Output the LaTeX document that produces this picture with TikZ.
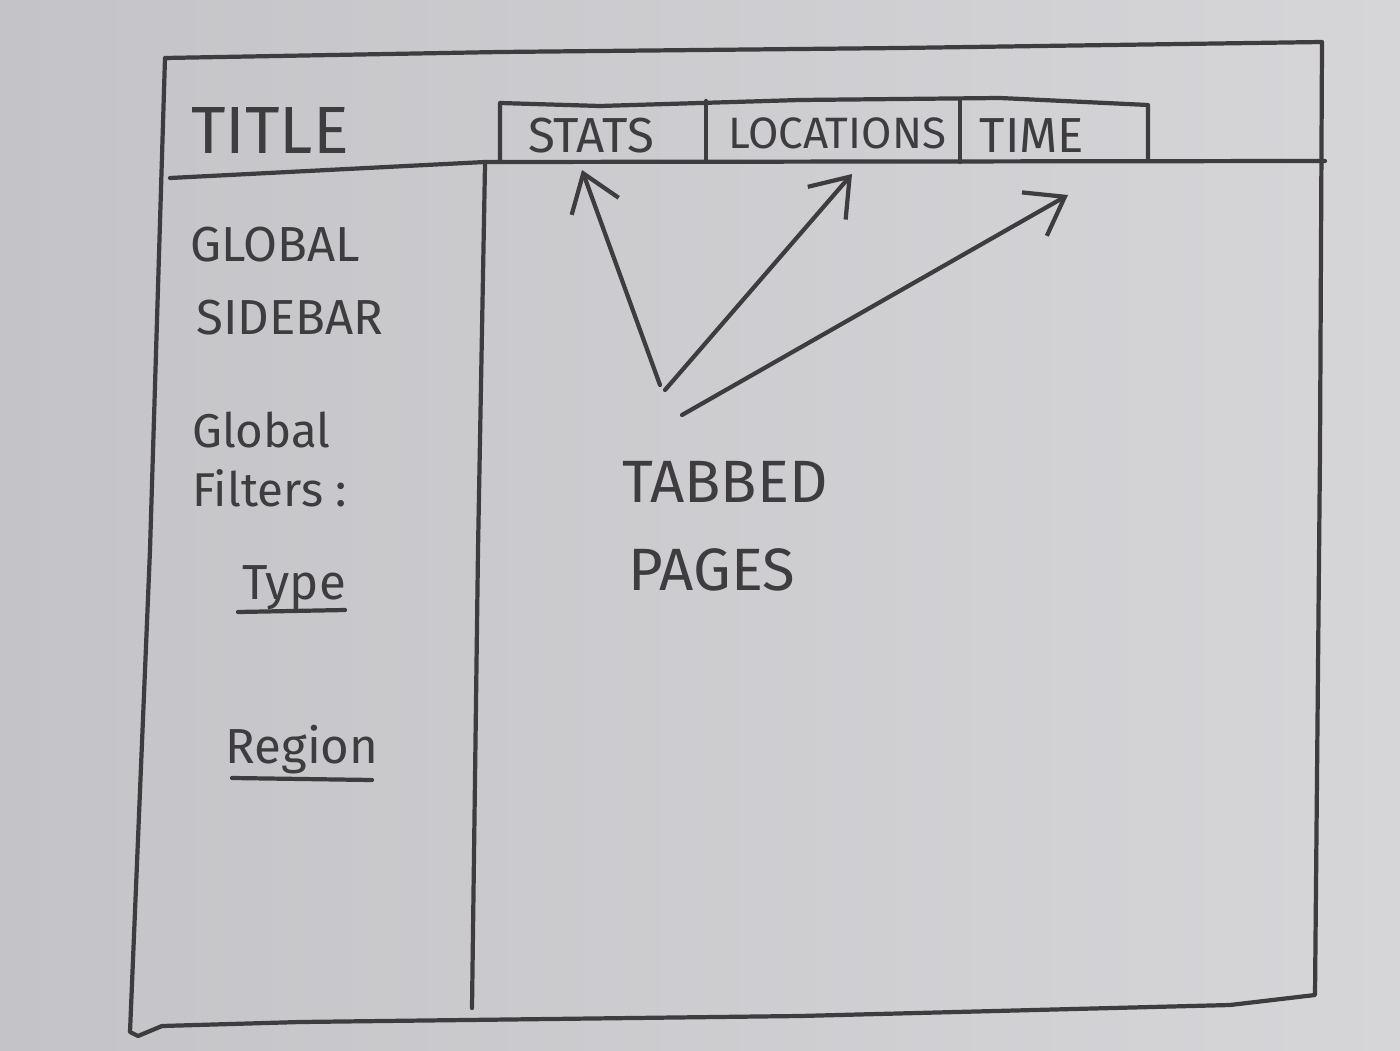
\documentclass[tikz,border=0pt]{standalone}
\usepackage{fontspec}
\setmainfont{Fira Sans}
\usetikzlibrary{arrows.meta}
\definecolor{pencil}{RGB}{62,60,62}
\definecolor{paperL}{RGB}{196,196,200}
\definecolor{paperR}{RGB}{214,213,216}
\tikzset{
  sketch/.style={draw=pencil, line width=1.2pt, line cap=round, line join=round},
  hand/.style={text=pencil, inner sep=1pt},
  big/.style={hand, font=\fontsize{19}{22}\selectfont},
  mid/.style={hand, font=\fontsize{17}{20}\selectfont},
  tab/.style={hand, font=\fontsize{14}{17}\selectfont},
  side/.style={hand, font=\fontsize{14}{17}\selectfont},
  small/.style={hand, font=\fontsize{13.5}{16}\selectfont},
  pointer/.style={sketch, -{Straight Barb[length=3.5mm,width=5mm,line width=1.2pt]}}
}
\begin{document}
\begin{tikzpicture}
% paper
\shade[left color=paperL, right color=paperR] (0,0) rectangle (14,10.5);
\useasboundingbox (0,0) rectangle (14,10.5);
% outer frame
\draw[sketch] (1.65,9.92) -- (5.0,9.98) -- (9.0,10.02) -- (13.22,10.08)
  -- (13.20,6.0) -- (13.15,0.55) -- (12.3,0.45) -- (8.0,0.34)
  -- (3.0,0.28) -- (1.62,0.24) -- (1.38,0.14) -- (1.30,0.18)
  -- (1.50,5.0) -- cycle;
% header line and sidebar divider
\draw[sketch] (1.70,8.72) -- (4.85,8.88) -- (13.25,8.89);
\draw[sketch] (4.85,8.85) -- (4.78,5.0) -- (4.72,0.42);
% tabs
\draw[sketch] (5.00,8.90) -- (5.00,9.47) -- (6.0,9.44) -- (8.0,9.50) -- (10.0,9.52) -- (11.48,9.45) -- (11.48,8.90);
\foreach \x in {7.06,9.60} {
  \draw[sketch] (\x,8.88) -- (\x,9.49);
}
% texts
\node[big] (title) at (2.70,9.20) {TITLE};
\node[tab] (stats) at (5.91,9.14) {STATS};
\node[tab, font=\fontsize{12.5}{15}\selectfont] (locations) at (8.37,9.17) {LOCATIONS};
\node[tab] (time) at (10.32,9.14) {TIME};
\node[side] (global) at (2.75,8.05) {GLOBAL};
\node[side] (sidebar) at (2.90,7.32) {SIDEBAR};
\node[small, anchor=west] (globalf) at (1.88,6.20) {Global};
\node[small, anchor=west] (filters) at (1.88,5.62) {Filters :};
\node[side] (type) at (2.94,4.62) {Type};
\node[side] (region) at (3.02,3.00) {Region};
\node[mid] (tabbed) at (7.25,5.68) {TABBED};
\node[mid] (pages) at (7.12,4.80) {PAGES};
% underlines
\draw[sketch] (2.38,4.38) -- (3.45,4.40);
\draw[sketch] (2.32,2.72) -- (3.72,2.70);
% arrows to the tabs
\coordinate (fromStats) at (6.60,6.65);
\coordinate (fromLoc) at (6.65,6.60);
\coordinate (fromTime) at (6.82,6.35);
\coordinate (toStats) at (5.82,8.80);
\coordinate (toLoc) at (8.52,8.76);
\coordinate (toTime) at (10.68,8.55);
\draw[pointer] (fromStats) -- (toStats);
\draw[pointer] (fromLoc) -- (toLoc);
\draw[pointer] (fromTime) -- (toTime);
\end{tikzpicture}
\end{document}
